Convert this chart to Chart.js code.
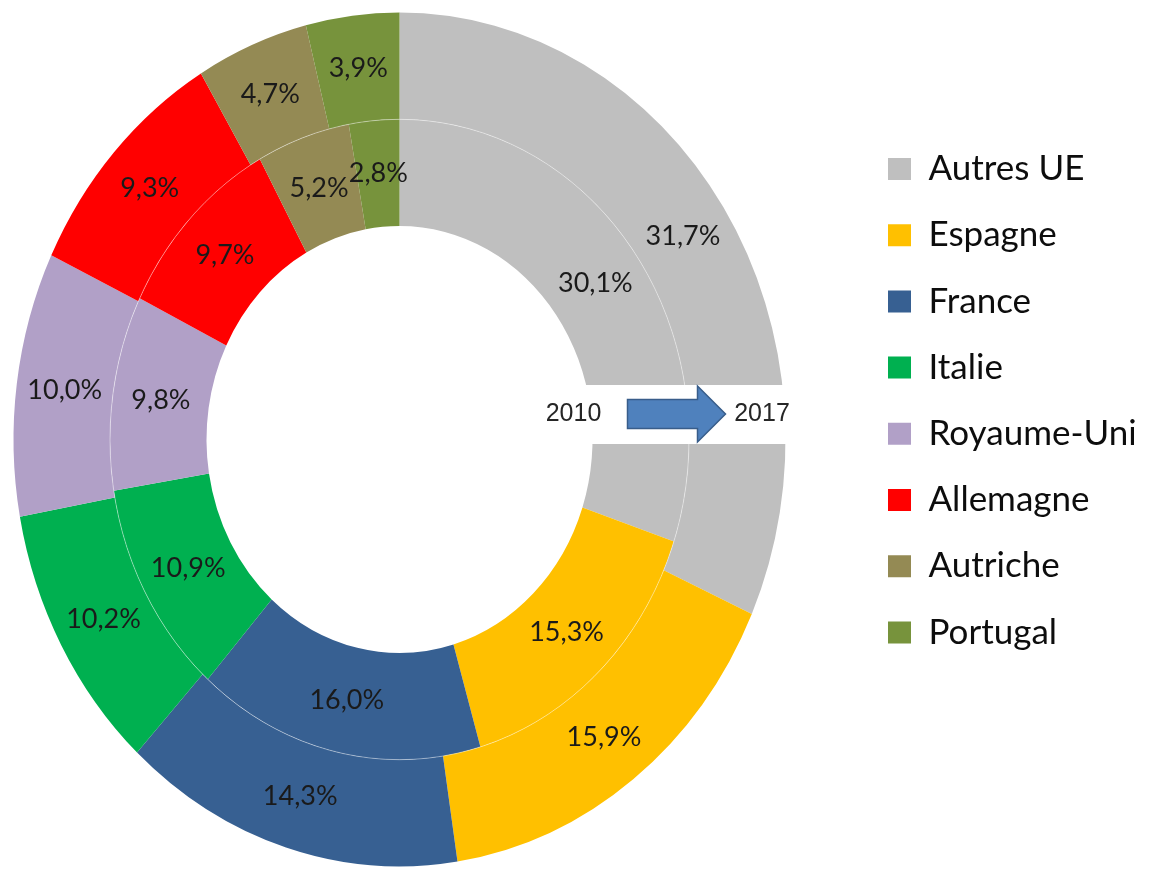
<!DOCTYPE html>
<html>
<head>
<meta charset="utf-8">
<script src="https://cdn.jsdelivr.net/npm/chart.js@4"></script>
<style>
  html, body { margin: 0; padding: 0; background: #fff; }
</style>
</head>
<body>
<canvas id="chart" width="1157" height="869"></canvas>
<script>
const categories = ["Autres UE", "Espagne", "France", "Italie", "Royaume-Uni", "Allemagne", "Autriche", "Portugal"];
const values2010 = [30.1, 15.3, 16.0, 10.9, 9.8, 9.7, 5.2, 2.8];
const values2017 = [31.7, 15.9, 14.3, 10.2, 10.0, 9.3, 4.7, 3.9];
const years = ["2010", "2017"];
const colors = ["#BFBFBF", "#FFC000", "#376092", "#00B050", "#B1A0C7", "#FF0000", "#948A54", "#77933C"];

// the source picture is squeezed horizontally, so the rings are drawn as ellipses
const STRETCH = 1.106;
const CENTER_X = 399.5;
const RADIUS = 386;
const LEGEND_FONT = 35;
const LEGEND_ROW = 66.2;
const LEGEND_BOX_X = 888;
const LEGEND_FIRST_ROW = 151.5;
const TOP_PAD = 10;

const legendPad = LEGEND_ROW - LEGEND_FONT;

function makePercent(v) {
  return v.toFixed(1).replace(".", ",") + "%";
}

// measure legend text so the legend lands where it should
const measure = document.createElement("canvas").getContext("2d");
measure.font = LEGEND_FONT + "px Lato";
const maxText = Math.max(...categories.map(function (c) { return measure.measureText(c).width; }));
const colWidth = 23 + LEGEND_FONT / 2 + maxText;
const legendLeft = LEGEND_BOX_X - legendPad;
const legendWidth = legendPad + colWidth + 10;
const padRight = 1157 - legendLeft - legendWidth;

function ringCenter(chart) {
  const arc = chart.getDatasetMeta(0).data[0];
  return { dx: CENTER_X - arc.x, x: CENTER_X, y: arc.y };
}

const ringPlugin = {
  id: "ringStretch",
  beforeDatasetsDraw(chart) {
    const c = ringCenter(chart);
    const ctx = chart.ctx;
    ctx.save();
    ctx.translate(c.dx, 0);
    ctx.translate(c.x - c.dx, c.y);
    ctx.scale(1, STRETCH);
    ctx.translate(-(c.x - c.dx), -c.y);
  },
  afterDatasetsDraw(chart) {
    const ctx = chart.ctx;
    const outer = chart.getDatasetMeta(0).data[0];
    const c = ringCenter(chart);
    const cx = c.x;
    const cy = c.y;
    const r = outer.outerRadius;

    // faint line between the two rings
    ctx.beginPath();
    ctx.arc(outer.x, outer.y, outer.innerRadius, 0, Math.PI * 2);
    ctx.strokeStyle = "rgba(255,255,255,0.5)";
    ctx.lineWidth = 0.8;
    ctx.stroke();
    ctx.restore();

    // white band with 2010 -> 2017 arrow
    ctx.save();
    ctx.fillStyle = "#ffffff";
    ctx.fillRect(cx + 120, cy - 54.5, r + 30 - 120, 59);

    const mid = cy - 25.5;
    ctx.beginPath();
    ctx.moveTo(cx + 228, mid - 14.5);
    ctx.lineTo(cx + 298, mid - 14.5);
    ctx.lineTo(cx + 298, mid - 28);
    ctx.lineTo(cx + 326, mid);
    ctx.lineTo(cx + 298, mid + 28);
    ctx.lineTo(cx + 298, mid + 14.5);
    ctx.lineTo(cx + 228, mid + 14.5);
    ctx.closePath();
    ctx.fillStyle = "#4F81BD";
    ctx.fill();
    ctx.strokeStyle = "#385D8A";
    ctx.lineWidth = 1.5;
    ctx.stroke();

    ctx.fillStyle = "#262626";
    ctx.font = "25px 'Liberation Sans', Arial, sans-serif";
    ctx.textAlign = "center";
    ctx.textBaseline = "middle";
    ctx.fillText(years[0], cx + 174, mid);
    ctx.fillText(years[1], cx + 362.5, mid);

    // value labels at the middle of each slice
    ctx.font = "27px Lato, sans-serif";
    ctx.fillStyle = "#1a1a1a";
    chart.data.datasets.forEach(function (ds, i) {
      chart.getDatasetMeta(i).data.forEach(function (arc, j) {
        const p = arc.getCenterPoint();
        ctx.fillText(makePercent(ds.data[j]), p.x + c.dx, cy + (p.y - cy) * STRETCH);
      });
    });
    ctx.restore();
  },
};

new Chart(document.getElementById("chart").getContext("2d"), {
  type: "doughnut",
  data: {
    labels: categories,
    datasets: [
      { label: years[1], data: values2017, backgroundColor: colors, borderWidth: 0 },
      { label: years[0], data: values2010, backgroundColor: colors, borderWidth: 0 },
    ],
  },
  options: {
    responsive: false,
    animation: false,
    events: [],
    radius: RADIUS,
    cutout: "50%",
    layout: {
      padding: { top: TOP_PAD, bottom: 0, left: 0, right: padRight },
    },
    plugins: {
      tooltip: { enabled: false },
      legend: {
        position: "right",
        align: "start",
        title: {
          display: true,
          text: "",
          padding: { top: LEGEND_FIRST_ROW - TOP_PAD - legendPad - 14.4, bottom: 0 },
        },
        labels: {
          boxWidth: 23,
          boxHeight: 22,
          padding: legendPad,
          color: "#0d0d0d",
          font: { family: "Lato", size: LEGEND_FONT },
        },
      },
    },
  },
  plugins: [ringPlugin],
});
</script>
</body>
</html>
